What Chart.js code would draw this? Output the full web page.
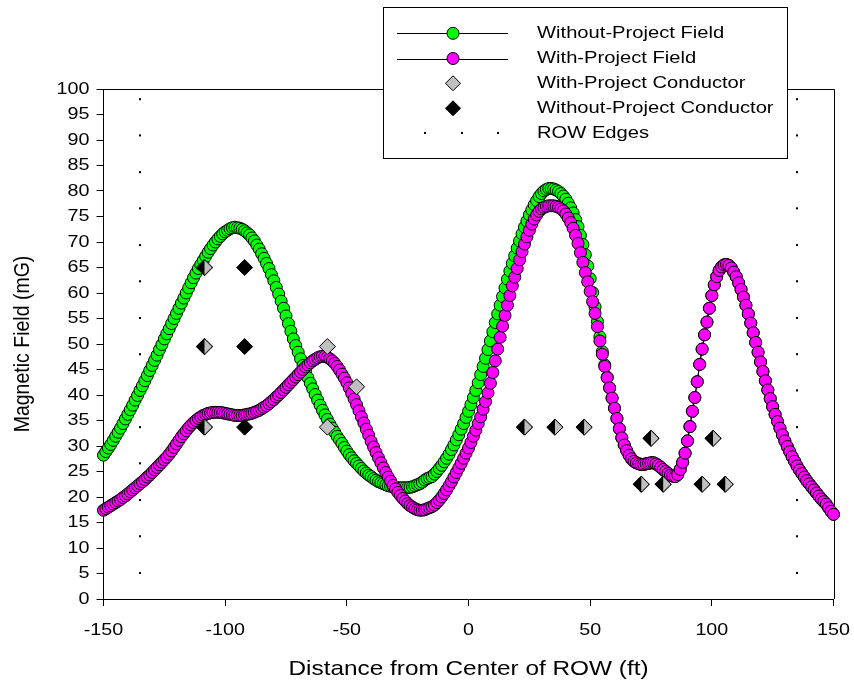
<!DOCTYPE html>
<html>
<head>
<meta charset="utf-8">
<script src="https://cdn.jsdelivr.net/npm/chart.js@4/dist/chart.umd.min.js"></script>
<style>
html,body{margin:0;padding:0;background:#fff;}
#wrap{width:854px;height:688px;position:relative;}
</style>
</head>
<body>
<div id="wrap"><canvas id="c" width="854" height="688"></canvas></div>
<script>
// ---------------- data ----------------
const distanceStart = -150;   // ft, first sample of the field profiles
const distanceStep = 1;       // ft between samples

const withoutProjectField = [
28.2,28.9,29.6,30.3,31.1,31.9,32.7,33.5,34.4,35.3,
36.2,37.1,38.0,39.0,39.9,40.9,41.8,42.8,43.8,44.8,
45.8,46.8,47.8,48.9,49.9,51.0,52.0,53.0,54.0,55.0,
56.0,57.0,58.0,59.0,60.0,61.0,62.0,63.0,63.9,64.8,
65.6,66.4,67.2,68.0,68.7,69.4,70.0,70.6,71.1,71.6,
72.0,72.3,72.6,72.8,72.9,72.8,72.7,72.5,72.2,71.8,
71.4,70.8,70.2,69.4,68.6,67.7,66.8,65.8,64.8,63.6,
62.4,61.1,59.8,58.4,57.0,55.5,54.0,52.5,51.0,49.7,
48.4,47.1,45.8,44.6,43.4,42.3,41.2,40.1,39.0,38.0,
37.0,36.1,35.2,34.3,33.5,32.7,31.9,31.2,30.5,29.7,
29.0,28.3,27.7,27.1,26.6,26.1,25.6,25.1,24.7,24.3,
24.0,23.6,23.3,23.0,22.8,22.6,22.4,22.2,22.1,22.0,
21.9,21.8,21.8,21.8,21.8,21.8,21.9,22.0,22.2,22.4,
22.6,22.9,23.3,23.6,23.8,24.0,24.5,25.0,25.6,26.2,
26.9,27.6,28.4,29.3,30.2,31.2,32.2,33.3,34.4,35.6,
36.8,38.1,39.5,40.9,42.4,44.0,45.6,47.2,48.9,50.6,
52.4,54.2,55.9,57.6,59.3,61.0,62.7,64.3,65.8,67.3,
68.8,70.2,71.6,72.9,74.1,75.3,76.3,77.3,78.1,78.9,
79.5,80.0,80.3,80.5,80.5,80.4,80.2,79.9,79.5,79.0,
78.4,77.6,76.7,75.7,74.4,73.0,71.3,69.5,67.5,65.3,
62.8,60.1,57.3,54.4,51.4,48.5,45.9,43.5,41.4,39.4,
37.4,35.4,33.4,31.6,30.2,29.1,28.2,27.5,27.0,26.7,
26.5,26.4,26.4,26.5,26.6,26.7,26.7,26.5,26.2,25.8,
25.4,25.0,24.6,24.3,24.1,24.0,24.4,25.4,26.8,28.6,
31.0,33.8,36.8,39.5,42.6,46.0,49.0,51.8,54.3,57.0,
59.5,61.6,63.2,64.4,65.1,65.5,65.6,65.4,64.9,64.1,
63.2,62.0,60.7,59.2,57.6,55.9,54.1,52.2,50.3,48.4,
46.5,44.6,42.8,41.0,39.3,37.7,36.2,34.8,33.5,32.2,
31.0,29.9,28.9,27.9,27.0,26.1,25.3,24.6,23.9,23.2,
22.6,22.0,21.4,20.8,20.2,19.6,19.1,18.6,17.9,17.2,
16.6
];

const withProjectField = [
17.4,17.7,18.0,18.3,18.6,18.9,19.2,19.5,19.9,20.2,
20.6,21.0,21.4,21.8,22.2,22.6,23.0,23.4,23.9,24.3,
24.8,25.3,25.8,26.3,26.8,27.3,27.8,28.4,29.0,29.7,
30.4,31.1,31.8,32.4,33.0,33.6,34.1,34.6,35.0,35.4,
35.7,36.0,36.2,36.4,36.5,36.6,36.6,36.6,36.6,36.5,
36.4,36.3,36.2,36.1,36.0,36.0,36.0,36.0,36.1,36.2,
36.3,36.4,36.6,36.8,37.0,37.3,37.6,37.9,38.3,38.7,
39.1,39.6,40.0,40.5,41.0,41.5,42.0,42.5,43.0,43.5,
44.0,44.5,45.0,45.5,45.9,46.3,46.7,47.0,47.3,47.5,
47.6,47.6,47.4,47.1,46.7,46.2,45.6,44.9,44.1,43.3,
42.4,41.4,40.3,39.2,38.1,36.9,35.7,34.5,33.3,32.1,
30.9,29.8,28.7,27.7,26.7,25.7,24.8,23.9,23.1,22.3,
21.6,20.9,20.3,19.7,19.2,18.7,18.3,18.0,17.7,17.5,
17.4,17.4,17.5,17.7,17.9,18.1,18.4,18.9,19.4,20.0,
20.7,21.4,22.2,23.0,23.9,24.8,25.7,26.6,27.6,28.6,
29.6,30.7,31.9,33.1,34.4,35.7,37.2,38.7,40.4,42.3,
44.4,46.7,49.0,51.3,53.5,55.6,57.6,59.5,61.4,63.1,
64.8,66.5,68.1,69.6,71.0,72.3,73.5,74.5,75.3,76.0,
76.5,76.8,77.0,77.1,77.1,77.1,77.0,76.8,76.5,76.1,
75.5,74.7,73.8,72.7,71.3,69.7,67.9,66.0,64.0,62.2,
60.3,58.3,56.0,53.4,50.6,48.0,45.6,43.4,41.4,39.4,
37.4,35.4,33.4,31.6,30.2,29.1,28.2,27.5,27.0,26.7,
26.5,26.4,26.4,26.5,26.6,26.7,26.7,26.5,26.2,25.8,
25.4,25.0,24.6,24.3,24.1,24.0,24.4,25.4,26.8,28.6,
31.0,33.8,36.8,39.5,42.6,46.0,49.0,51.8,54.3,57.0,
59.5,61.6,63.2,64.4,65.1,65.5,65.6,65.4,64.9,64.1,
63.2,62.0,60.7,59.2,57.6,55.9,54.1,52.2,50.3,48.4,
46.5,44.6,42.8,41.0,39.3,37.7,36.2,34.8,33.5,32.2,
31.0,29.9,28.9,27.9,27.0,26.1,25.3,24.6,23.9,23.2,
22.6,22.0,21.4,20.8,20.2,19.6,19.1,18.6,17.9,17.2,
16.6
];

const withProjectConductorX    = [-108.5,-108.5,-108.5,-58,-46,-58,23,35.5,47.5,75,100.5,71,80,96,105.5];
const withProjectConductorY    = [65,49.5,33.7,49.5,41.6,33.7,33.7,33.7,33.7,31.5,31.5,22.5,22.5,22.5,22.5];
const withoutProjectConductorX = [-108.5,-108.5,-108.5,-92,-92,-92,23,35.5,47.5,75,100.5,71,80,96,105.5];
const withoutProjectConductorY = [65,49.5,33.7,65,49.5,33.7,33.7,33.7,33.7,31.5,31.5,22.5,22.5,22.5,22.5];

const rowEdgeX = [-135, 135];
const rowEdgeMarkY = [5.1,12.3,19.4,26.6,33.7,40.9,48.0,55.1,62.3,69.4,76.6,83.7,90.9,98.0];

const xTicks = [-150,-100,-50,0,50,100,150];
const yTicks = [0,5,10,15,20,25,30,35,40,45,50,55,60,65,70,75,80,85,90,95,100];

const seriesLabels = ['Without-Project Field','With-Project Field','With-Project Conductor','Without-Project Conductor','ROW Edges'];
const xTitle = 'Distance from Center of ROW (ft)';
const yTitle = 'Magnetic Field (mG)';

// ---------------- build ----------------
const FONT = "'Liberation Sans', Arial, sans-serif";
const TEXT_STRETCH = 1.16;

const toProfile = arr => arr.map((v, i) => ({x: distanceStart + i * distanceStep, y: v}));
const toPoints = (xs, ys) => xs.map((x, i) => ({x: x, y: ys[i]}));
const rowPoints = [];
rowEdgeX.forEach(x => rowEdgeMarkY.forEach(y => rowPoints.push({x: x, y: y})));

const withCond = toPoints(withProjectConductorX, withProjectConductorY);
const withoutCond = toPoints(withoutProjectConductorX, withoutProjectConductorY);
const shared = withCond.map(p => withoutCond.some(q => q.x === p.x && q.y === p.y));

function halfDiamond(r, leftColor, rightColor) {
  const size = 2 * r + 2;
  const c = document.createElement('canvas');
  c.width = size; c.height = size;
  const g = c.getContext('2d');
  const m = size / 2;
  g.beginPath(); g.moveTo(m - r, m); g.lineTo(m, m - r); g.lineTo(m, m + r); g.closePath();
  g.fillStyle = leftColor; g.fill();
  g.beginPath(); g.moveTo(m, m - r); g.lineTo(m + r, m); g.lineTo(m, m + r); g.closePath();
  g.fillStyle = rightColor; g.fill();
  g.beginPath(); g.moveTo(m - r, m); g.lineTo(m, m - r); g.lineTo(m + r, m); g.lineTo(m, m + r); g.closePath();
  g.strokeStyle = '#000'; g.lineWidth = 1; g.stroke();
  return c;
}
const GRAY = '#c0c0c0';
const halfImg = halfDiamond(8, '#000000', GRAY);

// horizontally widened text, like the reference rendering
const stretchPlugin = {
  id: 'stretchText',
  beforeInit(chart) {
    const ctx = chart.ctx;
    if (ctx.__stretched) return;
    ctx.__stretched = true;
    const orig = ctx.fillText;
    ctx.fillText = function (text, x, y, maxWidth) {
      const m = this.getTransform();
      const p = m.transformPoint(new DOMPoint(x, y));
      const s = new DOMMatrix().translate(p.x, p.y).scale(TEXT_STRETCH, 1).translate(-p.x, -p.y).multiply(m);
      this.save();
      this.setTransform(s);
      if (maxWidth === undefined) orig.call(this, text, x, y);
      else orig.call(this, text, x, y, maxWidth);
      this.restore();
    };
  }
};

const framePlugin = {
  id: 'frame',
  beforeDatasetsDraw(chart) {
    const a = chart.chartArea, ctx = chart.ctx;
    ctx.save();
    ctx.strokeStyle = '#000'; ctx.lineWidth = 1;
    ctx.beginPath();
    ctx.moveTo(Math.round(a.left), Math.round(a.top) + 0.5);
    ctx.lineTo(Math.round(a.right) + 0.5, Math.round(a.top) + 0.5);
    ctx.lineTo(Math.round(a.right) + 0.5, Math.round(a.bottom));
    ctx.stroke();
    ctx.restore();
  }
};

const legendPlugin = {
  id: 'boxLegend',
  afterDraw(chart) {
    const ctx = chart.ctx;
    const ds = chart.data.datasets;
    const bx = 383.5, by = 7.5, bw = 404, bh = 151;
    ctx.save();
    ctx.fillStyle = '#fff';
    ctx.fillRect(bx, by, bw, bh);
    ctx.strokeStyle = '#000'; ctx.lineWidth = 1;
    ctx.strokeRect(bx, by, bw, bh);
    const rowsY = [33.3, 58.5, 83.3, 108.3, 133.3];
    const mx = 453, lx0 = 397, lx1 = 508, tx = 537;
    for (let i = 0; i < ds.length; i++) {
      const d = ds[i], y = rowsY[i];
      if (d.legendKind === 'circle') {
        ctx.beginPath(); ctx.moveTo(lx0, Math.round(y) + 0.5); ctx.lineTo(lx1, Math.round(y) + 0.5);
        ctx.strokeStyle = '#000'; ctx.lineWidth = 1; ctx.stroke();
        ctx.beginPath(); ctx.arc(mx, y, 6, 0, Math.PI * 2);
        ctx.fillStyle = d.pointBackgroundColor; ctx.fill(); ctx.stroke();
      } else if (d.legendKind === 'diamond') {
        const r = 7.5;
        ctx.beginPath(); ctx.moveTo(mx - r, y); ctx.lineTo(mx, y - r); ctx.lineTo(mx + r, y); ctx.lineTo(mx, y + r); ctx.closePath();
        ctx.fillStyle = d.legendFill; ctx.fill();
        ctx.strokeStyle = '#000'; ctx.lineWidth = 1; ctx.stroke();
      } else if (d.legendKind === 'dots') {
        ctx.fillStyle = '#000';
        [425, 462, 498].forEach(px => ctx.fillRect(px - 1, Math.round(y) - 1, 2, 2));
      }
      ctx.fillStyle = '#000';
      ctx.font = '17.4px ' + FONT;
      ctx.textAlign = 'left';
      ctx.textBaseline = 'middle';
      ctx.fillText(d.label, tx, y);
    }
    ctx.restore();
  }
};

const tickFont = {family: FONT, size: 17};

new Chart(document.getElementById('c'), {
  type: 'scatter',
  data: {
    datasets: [
      {
        label: seriesLabels[0], data: toProfile(withoutProjectField), order: 5,
        showLine: true, borderColor: '#000', borderWidth: 1,
        pointRadius: 6, pointHoverRadius: 6, pointBackgroundColor: '#00ff00', pointBorderColor: '#000', pointBorderWidth: 1,
        clip: false, legendKind: 'circle'
      },
      {
        label: seriesLabels[1], data: toProfile(withProjectField), order: 4,
        showLine: true, borderColor: '#000', borderWidth: 1,
        pointRadius: 6, pointHoverRadius: 6, pointBackgroundColor: '#ff00ff', pointBorderColor: '#000', pointBorderWidth: 1,
        clip: false, legendKind: 'circle'
      },
      {
        label: seriesLabels[2], data: withCond, order: 1,
        showLine: false,
        pointStyle: c => shared[c.dataIndex] ? halfImg : 'rectRot',
        pointRadius: 8, pointHoverRadius: 8, pointBackgroundColor: GRAY, pointBorderColor: '#000', pointBorderWidth: 1,
        clip: false, legendKind: 'diamond', legendFill: GRAY
      },
      {
        label: seriesLabels[3], data: withoutCond, order: 2,
        showLine: false, pointStyle: 'rectRot',
        pointRadius: 8, pointHoverRadius: 8, pointBackgroundColor: '#000', pointBorderColor: '#000', pointBorderWidth: 1,
        clip: false, legendKind: 'diamond', legendFill: '#000'
      },
      {
        label: seriesLabels[4], data: rowPoints, order: 6,
        showLine: false, pointStyle: 'rect',
        pointRadius: 1.45, pointHoverRadius: 1.45, pointBackgroundColor: '#000', pointBorderWidth: 0,
        clip: false, legendKind: 'dots'
      }
    ]
  },
  options: {
    responsive: false,
    devicePixelRatio: 1,
    animation: false,
    events: [],
    layout: {padding: {top: 89, right: 20.5, left: 0, bottom: 0}},
    plugins: {legend: {display: false}, tooltip: {enabled: false}},
    scales: {
      x: {
        type: 'linear', min: -150, max: 150,
        afterBuildTicks: s => { s.ticks = xTicks.map(v => ({value: v})); },
        afterFit: s => { s.height = 89; s.paddingLeft = 0; s.paddingRight = 0; },
        ticks: {font: tickFont, color: '#000', padding: 14, autoSkip: false, maxRotation: 0, callback: v => String(v)},
        grid: {drawOnChartArea: false, drawTicks: true, tickLength: 7, color: '#000', tickColor: '#000'},
        border: {display: true, color: '#000', width: 1},
        title: {display: true, text: xTitle, color: '#000', font: {family: FONT, size: 21}, padding: {top: 0, bottom: 5.7}}
      },
      y: {
        type: 'linear', min: 0, max: 100,
        afterBuildTicks: s => { s.ticks = yTicks.map(v => ({value: v})); },
        afterFit: s => { s.width = 103.5; s.paddingTop = 0; s.paddingBottom = 0; },
        ticks: {font: tickFont, color: '#000', padding: 7, autoSkip: false, callback: v => String(v)},
        grid: {drawOnChartArea: false, drawTicks: true, tickLength: 7, color: '#000', tickColor: '#000'},
        border: {display: true, color: '#000', width: 1},
        title: {display: true, text: yTitle, color: '#000', font: {family: FONT, size: 19.5}, padding: {top: 11.5, bottom: 0}}
      }
    }
  },
  plugins: [stretchPlugin, framePlugin, legendPlugin]
});
</script>
</body>
</html>
